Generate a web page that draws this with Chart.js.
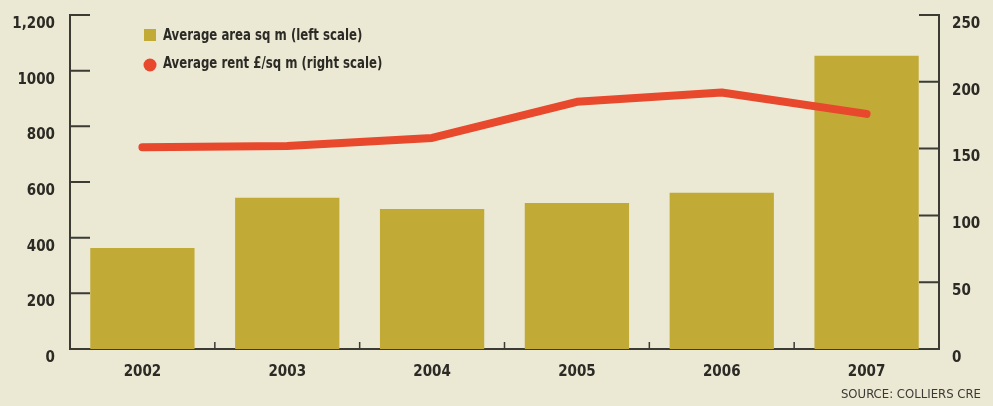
<!DOCTYPE html>
<html>
<head>
<meta charset="utf-8">
<script src="https://cdn.jsdelivr.net/npm/chart.js@4"></script>
<style>
  html, body { margin: 0; padding: 0; background: #ebe8d4; }
  #wrap { width: 993px; height: 406px; }
</style>
</head>
<body>
<div id="wrap"><canvas id="myChart" width="993" height="406"></canvas></div>
<script>
// dane
const years = ['2002', '2003', '2004', '2005', '2006', '2007'];
const avgArea = [363, 543, 503, 525, 561, 1054];   // sq m, left scale
const avgRent = [151, 152, 158, 185, 192, 176];    // £/sq m, right scale
const leftTicks = [0, 200, 400, 600, 800, 1000, 1200];
const leftTickLabels = ['0', '200', '400', '600', '800', '1000', '1,200'];
const rightTicks = [0, 50, 100, 150, 200, 250];
const rightTickLabels = ['0', '50', '100', '150', '200', '250'];
const sourceNote = 'SOURCE: COLLIERS CRE';

const FONT = '"DejaVu Sans Condensed", "Liberation Sans Narrow", sans-serif';
const INK = '#2b2a24';
const AXIS = '#3b3a33';
const BAR = '#c2aa36';
const LINE = '#e8482b';

// ticki do środka + legenda + źródło
const extras = {
  id: 'extras',
  afterDatasetsDraw(chart) {
    const ctx = chart.ctx;
    const area = chart.chartArea;
    const yl = chart.scales.yLeft, yr = chart.scales.yRight, x = chart.scales.x;
    ctx.save();
    ctx.strokeStyle = AXIS;
    ctx.lineWidth = 2;
    ctx.beginPath();
    leftTicks.forEach(v => {
      const py = yl.getPixelForValue(v);
      ctx.moveTo(area.left, py); ctx.lineTo(area.left + 20, py);
    });
    rightTicks.forEach(v => {
      const py = yr.getPixelForValue(v);
      ctx.moveTo(area.right, py); ctx.lineTo(area.right - 20, py);
    });
    ctx.stroke();
    ctx.lineWidth = 1.5;
    ctx.beginPath();
    for (let i = 0; i < years.length - 1; i++) {
      const px = (x.getPixelForValue(i) + x.getPixelForValue(i + 1)) / 2;
      ctx.moveTo(px, area.bottom); ctx.lineTo(px, area.bottom - 7);
    }
    ctx.stroke();

    // legenda
    const bars = chart.data.datasets.find(d => d.type === 'bar');
    const line = chart.data.datasets.find(d => d.type === 'line');
    ctx.fillStyle = BAR;
    ctx.fillRect(144, 29, 12, 12);
    ctx.fillStyle = LINE;
    ctx.beginPath(); ctx.arc(150, 65, 6.5, 0, Math.PI * 2); ctx.fill();
    ctx.fillStyle = INK;
    ctx.font = 'bold 15px ' + FONT;
    ctx.textBaseline = 'middle';
    ctx.textAlign = 'left';
    ctx.save();
    ctx.translate(163, 0);
    ctx.scale(0.87, 1);
    ctx.fillText(bars.label, 0, 36);
    ctx.fillText(line.label, 0, 64);
    ctx.restore();

    ctx.font = '13px ' + FONT;
    ctx.textAlign = 'right';
    ctx.fillStyle = '#3a3934';
    ctx.fillText(sourceNote, 981, 395);
    ctx.restore();
  }
};

const tickFont = { family: FONT, size: 15, weight: 'bold' };

const fitY = (w) => (s) => {
  s.width = w;
  s.paddingTop = 0;
  s.paddingBottom = 0;
};

new Chart(document.getElementById('myChart').getContext('2d'), {
  data: {
    labels: years,
    datasets: [
      {
        type: 'line',
        label: 'Average rent £/sq m (right scale)',
        data: avgRent,
        yAxisID: 'yRight',
        borderColor: LINE,
        borderWidth: 8,
        borderCapStyle: 'round',
        borderJoinStyle: 'round',
        pointRadius: 0,
        tension: 0,
        order: 0
      },
      {
        type: 'bar',
        label: 'Average area sq m (left scale)',
        data: avgArea,
        yAxisID: 'yLeft',
        backgroundColor: BAR,
        categoryPercentage: 1,
        barPercentage: 0.72,
        order: 1
      }
    ]
  },
  options: {
    responsive: false,
    animation: false,
    layout: { padding: { top: 15, left: 0, right: 0, bottom: 0 } },
    plugins: { legend: { display: false }, tooltip: { enabled: false } },
    scales: {
      x: {
        offset: true,
        grid: { display: false, drawTicks: false },
        border: { display: true, color: AXIS, width: 2 },
        ticks: { color: INK, font: tickFont, padding: 14, maxRotation: 0 },
        afterFit: s => { s.height = 57; s.paddingLeft = 0; s.paddingRight = 0; }
      },
      yLeft: {
        position: 'left',
        min: 0, max: 1200,
        grid: { display: false, drawTicks: false },
        border: { display: true, color: AXIS, width: 2 },
        afterBuildTicks: s => { s.ticks = leftTicks.map(v => ({ value: v })); },
        ticks: {
          color: INK, font: tickFont, padding: 15, labelOffset: 9,
          callback: (v) => leftTickLabels[leftTicks.indexOf(v)]
        },
        afterFit: fitY(70)
      },
      yRight: {
        position: 'right',
        min: 0, max: 250,
        grid: { display: false, drawTicks: false },
        border: { display: true, color: AXIS, width: 2 },
        afterBuildTicks: s => { s.ticks = rightTicks.map(v => ({ value: v })); },
        ticks: {
          color: INK, font: tickFont, padding: 13, labelOffset: 9,
          callback: (v) => rightTickLabels[rightTicks.indexOf(v)]
        },
        afterFit: fitY(54)
      }
    }
  },
  plugins: [extras]
});
</script>
</body>
</html>
